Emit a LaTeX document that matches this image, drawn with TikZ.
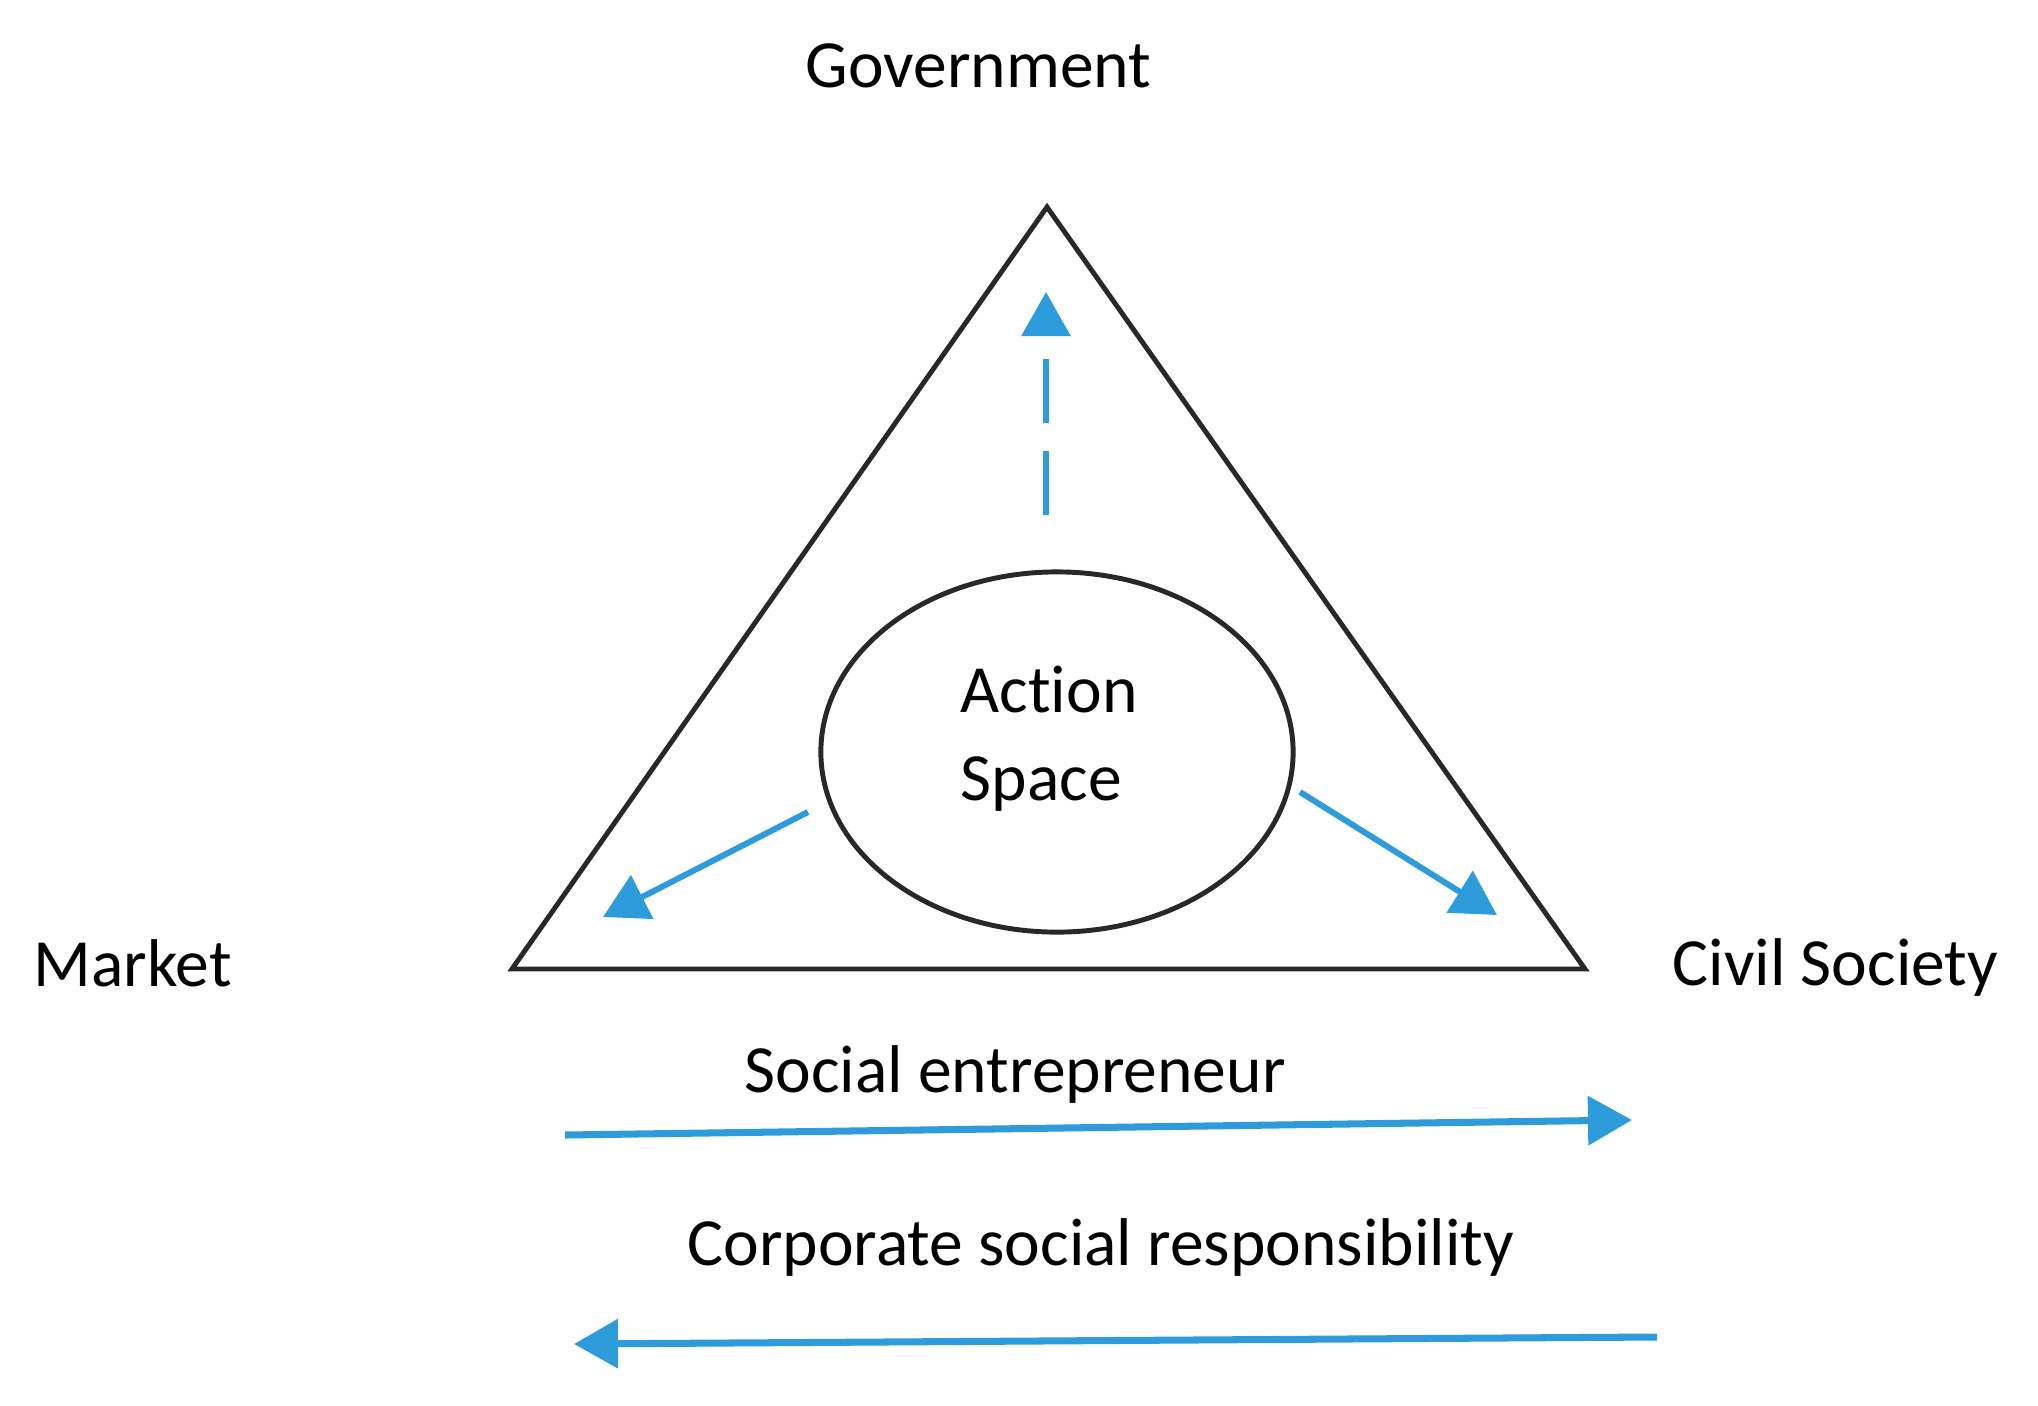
\documentclass[tikz,border=0pt]{standalone}
\usepackage{fontspec}
\setmainfont{Carlito}[Ligatures=NoCommon]
\usetikzlibrary{arrows.meta,shapes.geometric}
\definecolor{arrblue}{RGB}{46,155,219}
\definecolor{linegray}{RGB}{40,40,40}
\begin{document}
\begin{tikzpicture}[x=0.01cm,y=-0.01cm,
  lbl/.style={font=\fontsize{19.2}{23}\selectfont, inner sep=0pt, anchor=base west, text=black},
  frame/.style={draw=linegray, line width=1.4pt, line join=miter},
  barrow/.style={draw=arrblue, line width=1.7pt, -{Triangle[length=0.44cm,width=0.48cm]}},
  harrow/.style={barrow, line width=2pt},
]
\useasboundingbox (0,0) rectangle (2038,1405);
% triangle
\coordinate (top) at (1047,207);
\coordinate (bl) at (512,969);
\coordinate (br) at (1585,969);
\draw[frame] (top) -- (bl) -- (br) -- cycle;
% labels
\node[lbl] (gov) at (805,87) {Government};
\node[lbl] (mkt) at (33,986) {Market};
\node[lbl] (civ) at (1672,985) {Civil Society};
% action space
\node[draw=linegray, line width=1.4pt, ellipse, minimum width=4.72cm, minimum height=3.6cm, inner sep=0pt] (as) at (1057,752) {};
\node[lbl] (act) at (960,712) {Action};
\node[lbl] (spc) at (960,800) {Space};
% arrow ends
\coordinate (gstart) at (1046,515);
\coordinate (gtip) at (1046,292);
\coordinate (mstart) at (808,812);
\coordinate (mtip) at (603,917);
\coordinate (cstart) at (1300,792);
\coordinate (ctip) at (1497,915);
\draw[barrow, dash pattern=on 0.64cm off 0.28cm] (gstart) -- (gtip);
\draw[barrow] (mstart) -- (mtip);
\draw[barrow] (cstart) -- (ctip);
% bottom
\node[lbl] (se) at (744,1092) {Social entrepreneur};
\node[lbl] (csr) at (687,1265) {Corporate social responsibility};
\coordinate (sestart) at (565,1135);
\coordinate (setip) at (1632,1120);
\coordinate (csrstart) at (1657,1337);
\coordinate (csrtip) at (574,1344);
\draw[harrow] (sestart) -- (setip);
\draw[harrow] (csrstart) -- (csrtip);
\end{tikzpicture}
\end{document}
